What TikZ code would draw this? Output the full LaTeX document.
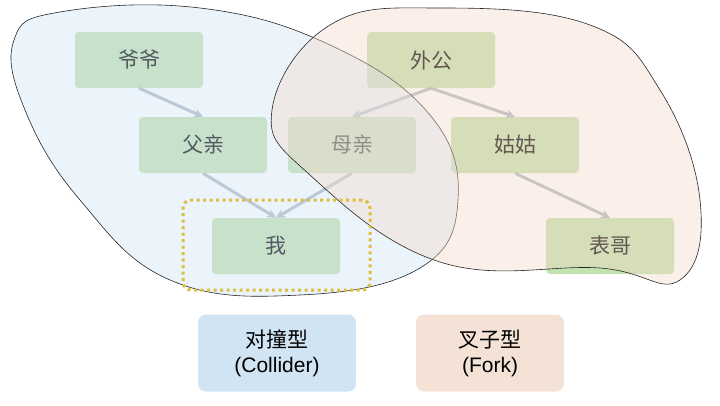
\documentclass[tikz,border=0pt]{standalone}
\usepackage{fontspec}
\setmainfont{Liberation Sans}
\newfontfamily\cjk{Noto Sans CJK SC}
\usetikzlibrary{arrows.meta}
\definecolor{ngreen}{RGB}{196,225,176}
\definecolor{bblue}{RGB}{205,226,244}
\definecolor{bpeach}{RGB}{242,218,200}
\definecolor{agrey}{RGB}{176,184,196}
\definecolor{gold}{RGB}{222,190,60}
\definecolor{lblue}{RGB}{208,228,244}
\definecolor{lpeach}{RGB}{244,226,214}
\begin{document}
\begin{tikzpicture}[x=1pt,y=-1pt,
  person/.style={fill=ngreen,rounded corners=4pt,minimum width=128pt,minimum height=56pt,font=\cjk\fontsize{21}{24}\selectfont},
  arr/.style={-{Stealth[length=9pt,width=9pt]},draw=agrey,line width=3pt},
  legend/.style={rounded corners=8pt,minimum height=77pt,align=center,font=\fontsize{21}{25}\selectfont}]
\useasboundingbox (0,0) rectangle (720,405);
% nodes
\node[person] (yeye) at (139,60) {爷爷};
\node[person] (waigong) at (431,60) {外公};
\node[person] (fuqin) at (203,145) {父亲};
\node[person] (muqin) at (352,145) {母亲};
\node[person] (gugu) at (515,145) {姑姑};
\node[person] (wo) at (276,246) {我};
\node[person] (biaoge) at (610,246) {表哥};
% arrows
\draw[arr] (yeye.south) -- (fuqin.north);
\draw[arr] (waigong.south) -- (muqin.north);
\draw[arr] (waigong.south) -- (gugu.north);
\draw[arr] (fuqin.south) -- (wo.north);
\draw[arr] (muqin.south) -- (wo.north);
\draw[arr] (gugu.south) -- (biaoge.north);
% blobs (over the nodes, translucent)
\draw[fill=bblue,fill opacity=0.4,draw=black!85,line width=0.6pt] plot[smooth cycle,tension=0.7] coordinates {(14,40) (60,12) (200,8) (330,45) (430,115) (458,200) (420,268) (300,295) (170,280) (80,200) (25,110)};
\draw[fill=bpeach,fill opacity=0.4,draw=black!85,line width=0.6pt] plot[smooth cycle,tension=0.7] coordinates {(272,110) (330,25) (440,8) (590,25) (660,90) (700,200) (680,280) (600,268) (440,262) (310,175)};
\node[draw=gold,line width=3pt,dash pattern=on 3pt off 3.5pt,rounded corners=8pt,minimum width=187pt,minimum height=90pt] (box) at (276.5,245) {};
% legends
\node[legend,fill=lblue,minimum width=158pt] (collider) at (277,353) {{\cjk 对撞型}\\(Collider)};
\node[legend,fill=lpeach,minimum width=148pt] (fork) at (490,353) {{\cjk 叉子型}\\(Fork)};
\end{tikzpicture}
\end{document}
